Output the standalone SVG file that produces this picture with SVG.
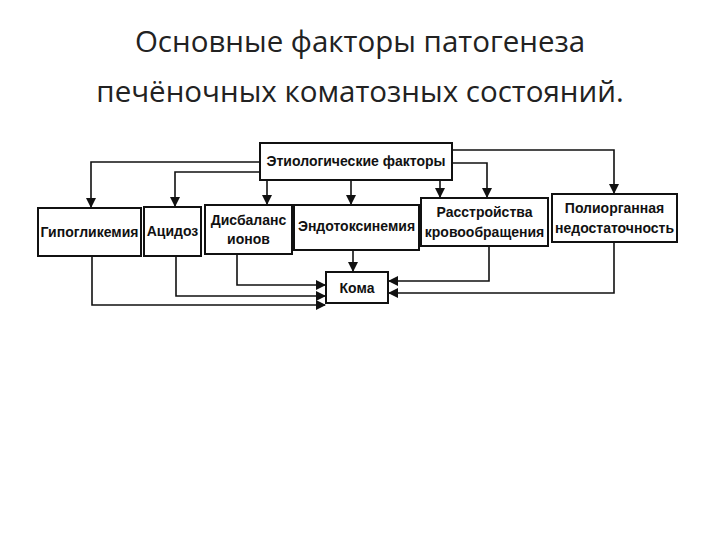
<svg xmlns="http://www.w3.org/2000/svg" width="720" height="540" viewBox="0 0 720 540">
<defs>
<style>
.t{font-family:"Open Sans","Liberation Sans",sans-serif;font-size:29.5px;fill:#222;text-anchor:middle}
.b{fill:#fff;stroke:#111;stroke-width:2}
.l{font-family:"Liberation Sans",Arial,sans-serif;font-size:14px;font-weight:bold;fill:#111;text-anchor:middle}
.c{fill:none;stroke:#111;stroke-width:1.6}
</style>
<marker id="a" markerWidth="10" markerHeight="10" refX="9" refY="5" orient="auto" markerUnits="userSpaceOnUse">
<path d="M0,0 L10,5 L0,10 Z" fill="#111"/>
</marker>
</defs>
<rect width="720" height="540" fill="#fff"/>
<text class="t" x="360" y="52">Основные факторы патогенеза</text>
<text class="t" x="360" y="102">печёночных коматозных состояний.</text>
<g id="connectors">
<path class="c" d="M260,162 H91 V207" marker-end="url(#a)"/>
<path class="c" d="M260,172 H175 V206" marker-end="url(#a)"/>
<path class="c" d="M267,180 V204" marker-end="url(#a)"/>
<path class="c" d="M351,180 V204" marker-end="url(#a)"/>
<path class="c" d="M440,180 V197" marker-end="url(#a)"/>
<path class="c" d="M452,163 H487 V197" marker-end="url(#a)"/>
<path class="c" d="M452,150 H614 V193" marker-end="url(#a)"/>
<path class="c" d="M92,256 V305 H325" marker-end="url(#a)"/>
<path class="c" d="M176,256 V296 H325" marker-end="url(#a)"/>
<path class="c" d="M237,254 V285 H325" marker-end="url(#a)"/>
<path class="c" d="M353,250 V271" marker-end="url(#a)"/>
<path class="c" d="M489,246 V281 H389" marker-end="url(#a)"/>
<path class="c" d="M614,242 V293 H389" marker-end="url(#a)"/>
</g>
<g id="etio"><rect class="b" x="260" y="143" width="192" height="37"/><text class="l" x="356" y="166">Этиологические факторы</text></g>
<g id="hypo"><rect class="b" x="38" y="208" width="103" height="48"/><text class="l" x="89.5" y="237">Гипогликемия</text></g>
<g id="acid"><rect class="b" x="144" y="207" width="57" height="49"/><text class="l" x="172.5" y="236">Ацидоз</text></g>
<g id="ions"><rect class="b" x="205" y="205" width="87" height="49"/><text class="l" x="248.5" y="225">Дисбаланс</text><text class="l" x="248.5" y="244">ионов</text></g>
<g id="endo"><rect class="b" x="294" y="205" width="125" height="45"/><text class="l" x="356.5" y="231">Эндотоксинемия</text></g>
<g id="circ"><rect class="b" x="421" y="198" width="127" height="48"/><text class="l" x="484.5" y="217">Расстройства</text><text class="l" x="484.5" y="237">кровообращения</text></g>
<g id="poly"><rect class="b" x="552" y="194" width="125" height="48"/><text class="l" x="614.5" y="213">Полиорганная</text><text class="l" x="614.5" y="233">недостаточность</text></g>
<g id="koma"><rect class="b" x="326" y="272" width="62" height="31"/><text class="l" x="357" y="293">Кома</text></g>
</svg>
